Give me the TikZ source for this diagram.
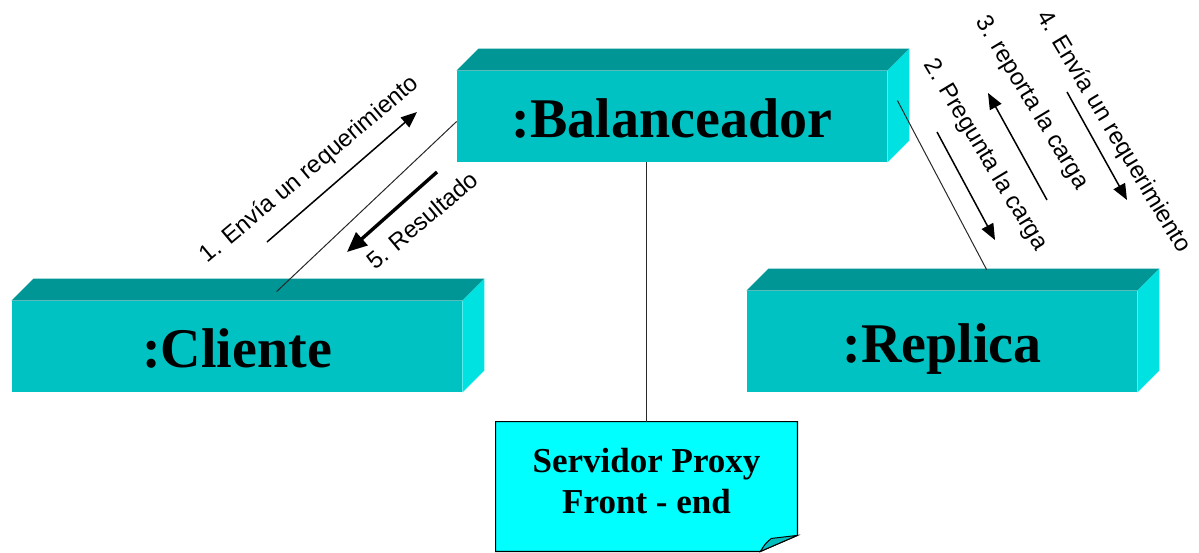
\documentclass[tikz,border=0pt]{standalone}
\usepackage{fontspec}
\setmainfont{Liberation Serif}
\setsansfont{Liberation Sans}
\usetikzlibrary{calc,arrows.meta,fit}

\definecolor{boxfront}{RGB}{0,194,194}
\definecolor{boxtop}{RGB}{0,150,150}
\definecolor{boxside}{RGB}{0,226,226}
\definecolor{notefill}{RGB}{0,255,255}
\definecolor{notefold}{RGB}{0,190,190}
\definecolor{linkgray}{RGB}{40,40,40}

% solid 3-D box: name, front-face corners, label
\newcommand\solidbox[4]{%
  \node[blockface, fit={(#2) (#3)}] (#1) {};
  \fill[boxtop] (#1.north west) -- ++(22,-22) -- ($(#1.north east)+(22,-22)$) -- (#1.north east) -- cycle;
  \fill[boxside] (#1.north east) -- ++(22,-22) -- ($(#1.south east)+(22,-22)$) -- (#1.south east) -- cycle;
  \node[blocktext, anchor=base] (#1-name) at ($(#1.center)+(0,21)$) {#4};
}

\begin{document}
\begin{tikzpicture}[x=0.5pt,y=-0.5pt,
  blockface/.style={fill=boxfront, inner sep=0pt},
  blocktext/.style={inner sep=0pt, font=\bfseries\fontsize{28}{32}\selectfont},
  link/.style={draw=linkgray, line width=0.5pt},
  msg/.style={line width=0.75pt, -{Triangle[length=8pt,width=6.5pt]}},
  msgbold/.style={line width=1.7pt, -{Triangle[length=10pt,width=8.5pt]}},
  lbl/.style={inner sep=0pt, font=\sffamily\fontsize{12}{14}\selectfont},
  notetext/.style={inner sep=0pt, align=center, font=\bfseries\fontsize{17.5}{20.5}\selectfont}
]
\useasboundingbox (0,0) rectangle (1199,552);

% objects
\solidbox{bal}{457,71}{887,162}{:Balanceador}
\solidbox{cli}{12,301}{462,392}{:Cliente}
\solidbox{rep}{747,291}{1137,392}{:Replica}

% note attached to the balancer
\node[fit={(496,422) (797,551)}, inner sep=0pt] (proxy) {};
\filldraw[fill=notefill, draw=black, line width=0.6pt]
  (proxy.north west) -- (proxy.north east) -- ($(proxy.south east)+(0,-16)$)
  -- ($(proxy.south east)+(-37,0)$) -- (proxy.south west) -- cycle;
\filldraw[fill=notefold, draw=black, line width=0.5pt]
  ($(proxy.south east)+(-37,0)$) .. controls ($(proxy.south east)+(-32,-8)$) .. ($(proxy.south east)+(-26,-13)$)
  -- ($(proxy.south east)+(0,-16)$) -- cycle;
\node[notetext] (proxytext) at ($(proxy.center)+(0,-5)$) {Servidor Proxy\\Front - end};

% links
\draw[link] ($(cli.north west)+(265,-9)$) -- ($(bal.west)+(0,5)$);
\draw[link] ($(bal.east)+(10,-16)$) -- ($(rep.north west)+(240,-21)$);
\draw[link] (bal.south -| proxy.north) -- (proxy.north);

% messages
\draw[msg] (267,242) -- (417,112);
\draw[msgbold] (437,172) -- (347,252);
\draw[msg] (937,132) -- (995,240);
\draw[msg] (1047,200) -- (988,93);
\draw[msg] (1067,92) -- (1127,200);

\node[lbl, rotate=40] (l1) at (310,170) {1. Envía un requerimiento};
\node[lbl, rotate=40] (l5) at (422,220) {5. Resultado};
\node[lbl, rotate=-59] (l2) at (985,155) {2. Pregunta la carga};
\node[lbl, rotate=-59] (l3) at (1032,103) {3. reporta la carga};
\node[lbl, rotate=-59] (l4) at (1113,132) {4. Envía un requerimiento};
\end{tikzpicture}
\end{document}
